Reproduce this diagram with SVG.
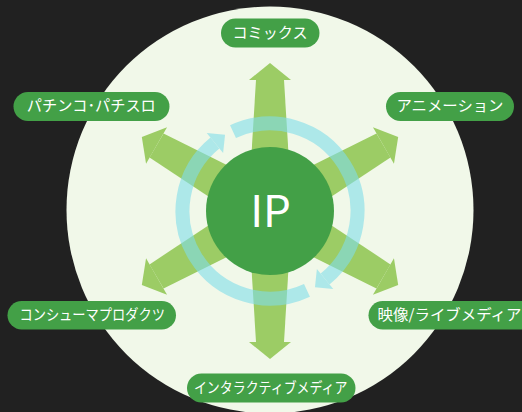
<svg xmlns="http://www.w3.org/2000/svg" xmlns:xlink="http://www.w3.org/1999/xlink" width="522" height="412" viewBox="0 0 522 412">
  <style>
    .pill { fill: #43a047; }
    .lbl { fill: #ffffff; font-family: "Noto Sans CJK JP", "Noto Sans", sans-serif; font-size: 15px; text-anchor: middle; }
    .arrow { fill: #9ccc65; }
    .ring { fill: none; stroke: #80deea; stroke-width: 14; }
    .ringhead { fill: #80deea; }
  </style>
  <defs>
    <g id="garrow">
      <polygon class="arrow" points="0,-22 131,-14 131,14 0,22"/>
      <polygon class="arrow" points="131,-21 148,0 131,21"/>
    </g>
  </defs>
  <rect x="0" y="0" width="522" height="412" fill="#212121"/>
  <circle cx="270" cy="210" r="203.5" fill="#f1f8e9"/>

  <g id="connectors">
    <use xlink:href="#garrow" transform="translate(270 211) rotate(-90)"/>
    <use xlink:href="#garrow" transform="translate(270 211) rotate(-30)"/>
    <use xlink:href="#garrow" transform="translate(270 211) rotate(30)"/>
    <use xlink:href="#garrow" transform="translate(270 211) rotate(90)"/>
    <use xlink:href="#garrow" transform="translate(270 211) rotate(150)"/>
    <use xlink:href="#garrow" transform="translate(270 211) rotate(210)"/>
    <g opacity="0.6">
      <path class="ring" d="M233.02,131.70 A87.5,87.5 0 0 1 325.07,279.00"/>
      <polygon class="ringhead" points="333.25,289.10 314.97,287.18 316.89,268.90"/>
      <path class="ring" d="M306.98,290.30 A87.5,87.5 0 0 1 214.93,143.00"/>
      <polygon class="ringhead" points="206.75,132.90 225.03,134.82 223.11,153.10"/>
    </g>
  </g>

  <g id="node-ip">
    <circle cx="270" cy="211" r="64" fill="#43a047"/>
    <text x="270.5" y="226.5" fill="#ffffff" font-family="'Noto Sans CJK JP', 'Noto Sans', sans-serif" font-size="44" text-anchor="middle">IP</text>
  </g>

  <g id="node-comics">
    <rect class="pill" x="221" y="18.5" width="98.5" height="29" rx="14.5"/>
    <text class="lbl" x="270" y="38.2" textLength="75" lengthAdjust="spacingAndGlyphs">コミックス</text>
  </g>
  <g id="node-pachinko">
    <rect class="pill" x="13.5" y="92" width="156" height="29" rx="14.5"/>
    <text class="lbl" x="91.3" y="111.3" textLength="129" lengthAdjust="spacingAndGlyphs">パチンコ･パチスロ</text>
  </g>
  <g id="node-anime">
    <rect class="pill" x="386" y="92" width="128" height="29" rx="14.5"/>
    <text class="lbl" x="450" y="111.3" textLength="107" lengthAdjust="spacingAndGlyphs">アニメーション</text>
  </g>
  <g id="node-consumer">
    <rect class="pill" x="7.5" y="301" width="168.5" height="28.5" rx="14.25"/>
    <text class="lbl" x="92.2" y="320" textLength="145.5" lengthAdjust="spacingAndGlyphs">コンシューマプロダクツ</text>
  </g>
  <g id="node-video">
    <rect class="pill" x="368.5" y="301" width="170" height="28.5" rx="14.25"/>
    <text class="lbl" x="377.5" y="320" text-anchor="start" style="text-anchor:start" textLength="144" lengthAdjust="spacingAndGlyphs">映像/ライブメディア</text>
  </g>
  <g id="node-interactive">
    <rect class="pill" x="187" y="373.5" width="168.5" height="29" rx="14.5"/>
    <text class="lbl" x="270.7" y="393" textLength="153.5" lengthAdjust="spacingAndGlyphs">インタラクティブメディア</text>
  </g>
</svg>
